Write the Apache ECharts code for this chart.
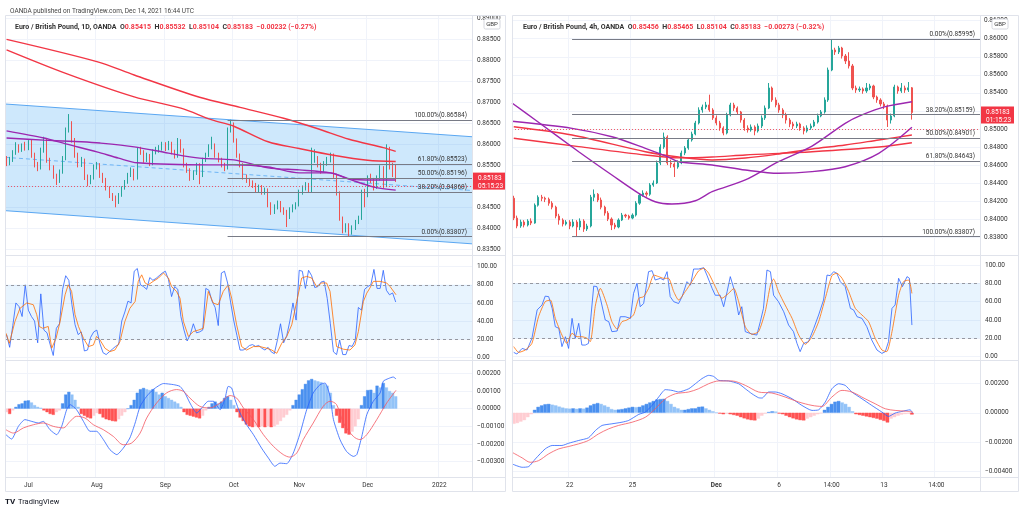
<!DOCTYPE html>
<html><head><meta charset="utf-8">
<script src="https://cdn.jsdelivr.net/npm/echarts/dist/echarts.min.js"></script>
<style>html,body{margin:0;padding:0;background:#fff}#c{width:1024px;height:512px}</style>
</head><body><div id="c"></div>
<script>
// ---------------- DATA: left (1D) ----------------
const leftTimeIdx = [7, 29, 51, 73, 94, 116, 139];
const leftTimeLab = ['Jul', 'Aug', 'Sep', 'Oct', 'Nov', 'Dec', '2022'];
const leftOpen0 = 0.8565;
const leftClose = [.8555,.8563,.8580,.8596,.8587,.8596,.8591,.8603,.8574,.8551,.8544,.8586,.8610,.8563,.8544,.8525,.8515,.8534,.8567,.8634,.8648,.8610,.8574,.8551,.8563,.8522,.8510,.8520,.8546,.8551,.8527,.8515,.8496,.8479,.8472,.8462,.8479,.8496,.8510,.8527,.8539,.8520,.8586,.8582,.8563,.8572,.8555,.8582,.8586,.8591,.8600,.8591,.8603,.8582,.8572,.8608,.8586,.8551,.8539,.8520,.8532,.8551,.8527,.8563,.8574,.8593,.8598,.8574,.8563,.8551,.8544,.8634,.8648,.8610,.8574,.8551,.8522,.8515,.8508,.8503,.8491,.8498,.8486,.8491,.8456,.8439,.8451,.8460,.8444,.8439,.8427,.8444,.8451,.8456,.8486,.8496,.8503,.8491,.8563,.8567,.8551,.8539,.8555,.8563,.8574,.8527,.8484,.8424,.8396,.8406,.8391,.8401,.8415,.8424,.8486,.8479,.8520,.8515,.8498,.8520,.8544,.8503,.8586,.8548,.85415,.85183];
const leftHigh = [.8572,.8570,.8586,.8605,.8600,.8602,.8606,.8610,.8612,.8580,.8558,.8592,.8618,.8614,.8568,.8550,.8530,.8540,.8572,.8640,.8672,.8655,.8615,.8580,.8570,.8566,.8528,.8527,.8552,.8558,.8555,.8532,.8520,.8500,.8484,.8478,.8484,.8500,.8515,.8532,.8545,.8542,.8592,.8594,.8586,.8580,.8577,.8588,.8594,.8598,.8606,.8605,.8608,.8606,.8587,.8615,.8612,.8590,.8556,.8543,.8538,.8556,.8555,.8568,.8580,.8600,.8618,.8602,.8580,.8568,.8556,.8640,.86584,.8652,.8614,.8578,.8555,.8528,.8520,.8514,.8508,.8504,.8503,.8497,.8495,.8462,.8457,.8466,.8465,.8450,.8444,.8450,.8457,.8462,.8492,.8502,.8510,.8508,.8592,.8588,.8572,.8556,.8560,.8570,.8580,.8578,.8530,.8488,.8428,.8412,.8412,.8407,.8420,.8430,.8492,.8494,.8526,.8530,.8520,.8526,.8550,.8548,.8600,.8594,.8556,.85532];
const leftLow = [.8548,.8550,.8558,.8575,.8580,.8582,.8585,.8586,.8568,.8545,.8536,.8540,.8580,.8556,.8538,.8518,.8503,.8508,.8530,.8562,.8628,.8604,.8568,.8545,.8546,.8515,.8500,.8505,.8516,.8540,.8520,.8508,.8490,.8472,.8465,.8450,.8458,.8475,.8492,.8506,.8522,.8514,.8516,.8575,.8556,.8558,.8548,.8550,.8576,.8580,.8585,.8584,.8586,.8576,.8566,.8568,.8580,.8545,.8532,.8513,.8515,.8527,.8505,.8522,.8558,.8570,.8588,.8568,.8557,.8545,.8536,.8540,.8628,.8604,.8568,.8545,.8516,.8508,.8500,.8496,.8484,.8486,.8480,.8480,.8450,.8432,.8434,.8445,.8438,.8432,.8403,.8422,.8438,.8445,.8452,.8480,.8490,.8484,.8486,.8556,.8545,.8530,.8534,.8549,.8557,.8520,.8478,.8418,.8388,.8390,.83807,.8385,.8396,.8410,.8420,.8450,.8474,.8508,.8490,.8494,.8514,.8496,.8498,.8540,.8522,.85104];
const leftMaRedA = [[0,.8850],[29,.8797],[41,.8765],[62,.8712],[75,.8688],[89,.8662],[100,.8637],[110,.8612],[121,.8592],[125,.8583]];
const leftMaRedB = [[0,.8825],[19,.8769],[41,.8713],[56,.8686],[66,.8658],[73,.8643],[84,.8606],[94,.8590],[105,.8574],[116,.8562],[125,.8559]];
const leftMaPurA = [[0,.8632],[12,.8615],[19,.8601],[29,.8582],[36,.8567],[42,.8556],[65,.8551],[73,.8551],[84,.8546],[94,.8532],[104,.8532],[110,.8518],[118,.8515],[125,.8515]];
const leftMaPurB = [[0,.8615],[12,.8610],[24,.8606],[30,.8603],[41,.8594],[52,.8579],[62,.8567],[73,.8563],[84,.8544],[94,.8539],[104,.8532],[110,.8517],[118,.8498],[125,.8491]];
const leftChanUpper = [0.8696, 0.8618];
const leftChanLower = [0.8442, 0.8363];
const leftChanMid = [0.8569, 0.8490];
const leftFibStart = 71;
const leftFib = [0.86584, 0.85523, 0.85196, 0.84868, 0.83807];
const leftFibLab = ['100.00%(0.86584)', '61.80%(0.85523)', '50.00%(0.85196)', '38.20%(0.84868)', '0.00%(0.83807)'];
const leftLast = 0.85183;
const leftPriceTicks = [0.835,0.84,0.845,0.85,0.855,0.86,0.865,0.87,0.875,0.88,0.885,0.89];
const leftK = [25,11,35,60,56,45,80,52,45,40,16,70,30,27,14,2,32,37,75,90,85,58,36,25,28,7,8,22,28,30,15,5,3,6,9,12,14,40,50,62,60,95,98,80,78,75,88,85,87,90,93,95,86,67,78,75,45,30,18,25,37,27,28,30,76,74,62,55,35,93,95,82,60,40,24,8,8,10,13,14,12,13,10,8,11,6,4,19,37,16,24,40,60,41,96,95,76,96,90,77,78,83,84,65,37,6,3,19,3,3,13,12,19,55,52,75,78,80,97,76,76,96,74,69,71,61];
const leftD = [[-0.2,26.6],[0.9,15.5],[2.7,39.5],[4.3,54],[6.5,60],[8.6,58],[9.7,47],[10.5,34],[11.6,32],[13.4,34],[14.5,10],[15.9,21],[17.2,39.5],[18.8,69],[19.8,80],[20.9,72.7],[22,47],[23.1,34],[24.7,21],[26.3,11.8],[27.9,13.6],[28.9,23],[30,19.2],[31.6,10],[33.2,6.3],[34.8,8],[36.4,17.3],[38,39.5],[39.6,54],[41.3,61.6],[42.3,83.8],[43.4,91],[44.5,82],[45.5,80],[47.1,83.8],[48.8,87.5],[50.4,93],[52,87.5],[53,78],[54.6,72.7],[55.7,65.3],[56.8,39.5],[58.4,23],[60,28.4],[61.6,30],[63.2,32],[64.8,72.7],[66.4,59.8],[68,58],[69.6,72.7],[71.2,80],[72.3,65.3],[73.9,35.8],[75.5,11.8],[77.1,8],[79.3,11.8],[81.4,11.8],[83.5,10],[85.2,8],[86.8,4.4],[88.4,15.5],[90,23],[91.6,35.8],[93.2,61.6],[94.8,87.5],[96.4,89.3],[98,87.5],[99.6,78],[101.2,82],[102.8,82],[103.9,72.7],[105,39.5],[106,11.8],[108.2,8.9],[110.3,8],[111.9,13.6],[113,28.4],[114.6,61.6],[115.7,70.8],[116.7,76.4],[117.8,83.8],[120,83.8],[122.1,82],[123.2,78],[125.1,69]];
const leftHist = [-0.0002,-0.0003,-0.0001,0.0001,0.00025,0.0003,0.00045,0.00047,0.00035,0.0002,0.0001,0.00005,-0.0001,-0.0002,-0.0003,-0.00035,-0.0002,-0.0001,0.0003,0.0008,0.00095,0.0008,0.0005,0.0001,-0.0003,-0.0004,-0.0005,-0.00055,-0.0004,-0.00025,-0.0003,-0.0005,-0.0006,-0.00065,-0.0007,-0.00072,-0.0006,-0.0004,-0.0002,0,0.0002,0.0005,0.0009,0.0011,0.00117,0.0011,0.00105,0.0011,0.00095,0.0008,0.0009,0.0007,0.0006,0.0005,0.0004,0.0003,0.0001,-0.0002,-0.00035,-0.0004,-0.00045,-0.0005,-0.00055,-0.0004,-0.0001,0.0001,0.0003,0.0004,0.0003,0.0004,0.0006,0.0007,0.0005,0.0002,-0.0002,-0.0005,-0.0007,-0.0009,-0.001,-0.00105,-0.001,-0.00105,-0.001,-0.00105,-0.001,-0.00105,-0.001,-0.0009,-0.0007,-0.0005,-0.00035,-0.0001,0.0002,0.0005,0.0008,0.0011,0.0014,0.0016,0.00168,0.0016,0.00155,0.0015,0.0014,0.0013,0.0009,0.0002,-0.0004,-0.0008,-0.0011,-0.0014,-0.00147,-0.0013,-0.001,-0.0006,0.0002,0.0007,0.00105,0.00107,0.0009,0.0013,0.0012,0.00145,0.0012,0.001,0.0009,0.0007];
const leftMacd = [[-0.2,-0.00147],[1.6,-0.00172],[3.8,-0.001],[5.9,-0.00062],[8.1,-0.00072],[10.2,-0.00081],[11.8,-0.00072],[13.95,-0.00119],[16.1,-0.00147],[17.7,-0.001],[19.3,-0.00006],[20.4,0.00023],[22.5,-0.00006],[24.7,-0.00072],[26.8,-0.00128],[28.9,-0.00128],[31.1,-0.00175],[33.2,-0.00232],[35.4,-0.0026],[37.5,-0.00223],[39.6,-0.00166],[41.3,-0.00081],[42.9,0.00013],[45,0.0007],[47.1,0.00108],[50.4,0.00142],[53.6,0.00136],[55.7,0.00126],[57.3,0.00089],[58.9,0.00032],[61.1,-0.00025],[62.7,0.00004],[64.8,0.00042],[66.4,0.00042],[68.6,-0.00006],[70.2,0.0006],[71.2,0.00126],[72.3,0.00117],[73.4,0.00051],[75,-0.00025],[77.1,-0.00091],[79.3,-0.00147],[81.9,-0.00223],[84.1,-0.00279],[86.2,-0.00326],[87.8,-0.00308],[90,-0.00311],[92.1,-0.00251],[94.3,-0.00138],[96.4,-0.00006],[98.5,0.00089],[100.7,0.00136],[102.3,0.00145],[103.9,0.0007],[105,-0.00062],[107.1,-0.00175],[109.2,-0.00242],[111.4,-0.0027],[112.5,-0.0026],[114.1,-0.00157],[115.7,-0.00034],[117.8,0.00042],[120,0.00089],[121,0.00155],[122.6,0.0017],[124.2,0.00179],[125.1,0.00168]];
const leftSignal = [[-0.2,-0.00119],[2.2,-0.00138],[5.4,-0.00109],[8.6,-0.00091],[11.8,-0.00081],[15,-0.001],[18.2,-0.00109],[20.4,-0.00072],[22.5,-0.00043],[25.2,-0.00053],[27.9,-0.00091],[31.1,-0.00119],[34.3,-0.00157],[37.5,-0.00204],[40.2,-0.00194],[42.9,-0.00138],[45,-0.00053],[48.2,0.00032],[51.4,0.00089],[54.6,0.00108],[56.8,0.00098],[58.9,0.0006],[62.1,0.00013],[65.3,0.00004],[68.6,0.00032],[71.8,0.00074],[73.9,0.0006],[76.1,0.00004],[79.3,-0.00062],[82.5,-0.00147],[85.7,-0.00213],[88.9,-0.0026],[91,-0.00274],[93.2,-0.00251],[95.3,-0.00175],[98.5,-0.00081],[101.7,0.00013],[103.9,0.00042],[106,0.00023],[108.2,-0.00081],[111.4,-0.00157],[113.5,-0.00175],[115.7,-0.00147],[118.9,-0.00062],[122.1,0.00032],[125.1,0.00104]];

// ---------------- DATA: right (4h) ----------------
const rightTimeIdx = [16, 34, 58, 76, 91, 106, 121];
const rightTimeLab = ['22', '25', 'Dec', '6', '14:00', '13', '14:00'];
const rightOpen0 = 0.84233;
const rightClose = [.84013,.83925,.83969,.83936,.83980,.83958,.84156,.84244,.84233,.84222,.84178,.84134,.84035,.83991,.83947,.83969,.83925,.83969,.83914,.83980,.83892,.83925,.84244,.84277,.84213,.84134,.84068,.84002,.83936,.83914,.83991,.84046,.84035,.84013,.84046,.84178,.84266,.84290,.84277,.84379,.84401,.84623,.84800,.84911,.84623,.84612,.84579,.84623,.84734,.84789,.84878,.84944,.85066,.85210,.85243,.85266,.85210,.85122,.85066,.85011,.84955,.85155,.85266,.85232,.85188,.85099,.85011,.84989,.85022,.84978,.85033,.85122,.85232,.85454,.85321,.85266,.85210,.85155,.85099,.85055,.85033,.85055,.85011,.84978,.85011,.85033,.85077,.85144,.85188,.85321,.85653,.85875,.85853,.85897,.85808,.85753,.85698,.85454,.85432,.85443,.85421,.85454,.85476,.85354,.85321,.85277,.85254,.85099,.85144,.85465,.85421,.85454,.85432,.85456,.85183];
const rightHigh = [.84260,.84040,.83995,.83990,.84000,.84010,.84175,.84265,.84270,.84250,.84240,.84200,.84150,.84060,.84010,.83990,.83990,.84000,.83990,.84010,.84000,.83950,.84270,.84330,.84290,.84240,.84150,.84090,.84020,.83960,.84010,.84070,.84060,.84050,.84065,.84200,.84290,.84320,.84310,.84400,.84430,.84650,.84830,.84960,.84930,.84660,.84630,.84650,.84760,.84810,.84900,.84970,.85090,.85240,.85270,.85300,.85380,.85230,.85150,.85090,.85030,.85180,.85290,.85290,.85250,.85200,.85120,.85040,.85050,.85040,.85060,.85150,.85260,.85509,.85470,.85350,.85290,.85230,.85180,.85120,.85080,.85080,.85070,.85030,.85040,.85060,.85100,.85170,.85210,.85350,.85680,.85995,.85900,.85920,.85910,.85830,.85850,.85720,.85480,.85470,.85460,.85509,.85500,.85490,.85370,.85340,.85300,.85270,.85170,.85490,.85480,.85509,.85480,.85520,.85465];
const rightLow = [.83990,.83900,.83905,.83910,.83920,.83935,.83950,.84140,.84200,.84190,.84150,.84110,.84010,.83940,.83920,.83930,.83890,.83910,.83807,.83880,.83860,.83870,.83910,.84200,.84190,.84110,.84040,.83980,.83880,.83890,.83900,.83980,.84015,.83995,.84000,.84030,.84160,.84250,.84250,.84260,.84360,.84390,.84600,.84780,.84600,.84570,.84468,.84560,.84610,.84710,.84770,.84860,.84930,.85050,.85180,.85220,.85190,.85100,.85040,.84980,.84930,.84940,.85140,.85200,.85160,.85070,.84980,.84960,.84970,.84930,.84960,.85010,.85100,.85220,.85300,.85240,.85180,.85120,.85060,.85020,.85000,.85010,.84980,.84940,.84960,.84990,.85020,.85060,.85130,.85170,.85300,.85640,.85820,.85830,.85780,.85720,.85670,.85430,.85400,.85410,.85390,.85400,.85430,.85330,.85290,.85250,.85220,.85022,.85060,.85130,.85390,.85400,.85400,.85410,.85104];
const rightMaRedA = [[0,.85025],[16.7,.84933],[37.7,.84748],[47.2,.84690],[56.8,.84656],[66.3,.84678],[75.8,.84723],[85.4,.84778],[94.9,.84822],[104.5,.84878],[114,.84933]];
const rightMaRedB = [[0,.84897],[18.6,.84804],[37.7,.84712],[47.2,.84680],[56.8,.84690],[66.3,.84712],[85.4,.84748],[104.5,.84800],[114,.84848]];
const rightMaPurA = [[-0.5,.85288],[6.2,.85099],[18.6,.84748],[28.1,.84490],[35.8,.84287],[40.5,.84194],[45.3,.84169],[52,.84205],[56.8,.84305],[66.3,.84435],[75.8,.84637],[85.4,.84811],[94.9,.85063],[99.7,.85155],[106.4,.85247],[114,.85302]];
const rightMaPurB = [[-0.5,.85085],[16.7,.85007],[28.1,.84914],[37.7,.84786],[44,.84693],[47.2,.84637],[56.8,.84601],[66.3,.84545],[75.8,.84509],[85.4,.84527],[94.9,.84582],[104.5,.84730],[114,.85018]];
const rightFibStart = 16.7;
const rightFib = [0.85995, 0.85159, 0.84901, 0.84643, 0.83807];
const rightFibLab = ['0.00%(0.85995)', '38.20%(0.85159)', '50.00%(0.84901)', '61.80%(0.84643)', '100.00%(0.83807)'];
const rightLast = 0.85183;
const rightPriceTicks = [0.836,0.838,0.84,0.842,0.844,0.846,0.848,0.85,0.852,0.854,0.856,0.858,0.86,0.862];
const rightK = [[0,4.7],[0.9,2.9],[2.4,9],[3.8,7.3],[5.2,20],[6.7,51],[8.1,56.4],[9,66],[10,65.5],[11,52.7],[11.9,32.7],[12.9,31],[13.8,11],[14.8,21.8],[15.7,9],[16.7,41.8],[17.6,20],[18.6,36.4],[19.5,12.7],[20.5,12.7],[21.4,14.5],[22.9,77],[23.8,76.4],[24.8,63.6],[26.2,40],[27.2,38.2],[28.1,27.3],[29.6,28],[30.5,43.6],[31.9,43.6],[33.4,41.8],[34.3,69],[35.3,80],[36.2,54.5],[37.2,58],[38.6,92.7],[39.6,93.8],[40.5,83.6],[42,85.5],[42.9,83.6],[43.9,92.7],[44.8,65.5],[45.8,60],[47.2,58],[48.2,65.5],[49.6,81.8],[50.6,78],[51.5,95.6],[52.9,95.6],[54.4,97],[55.3,89],[56.8,74.5],[57.7,67],[59.1,67],[60.1,54.5],[61.1,71],[62,87.3],[63,74.5],[64.4,45.5],[65.3,54.5],[66.3,27.3],[68.2,24.7],[69.6,23.6],[70.6,38.2],[71.5,52.7],[72.5,94.5],[73.5,92.7],[74.4,67],[75.8,60],[77.3,49],[78.7,34.5],[80.1,27.3],[81.1,14.5],[82,5.5],[83,14.5],[84.4,16.4],[85.9,31],[87.3,45.5],[88.7,61.8],[89.7,89],[90.6,88.4],[91.6,92.7],[92.5,91],[93.5,81.8],[94.9,76.4],[96.4,52.7],[97.3,51],[98.3,43.6],[99.7,41.8],[101.1,32.7],[102.5,18.2],[104,7.3],[105.4,3.6],[106.4,5.5],[107.3,16.4],[108.3,52.7],[109.2,56.4],[110.2,85.5],[111.3,76.4],[112.6,87.3],[113.3,85.5],[114,34.5]];
const rightD = [[0,11],[1.4,4.7],[3.3,7.3],[5.2,14.5],[7.1,43.6],[9,60],[10.5,61.8],[11.9,41.8],[13.8,23.6],[15.2,14.5],[16.7,25.5],[18.1,21.8],[19.5,21.8],[21,20],[21.9,16.4],[23.4,56.4],[24.8,74.5],[26.7,56.4],[28.1,38.2],[29.6,30],[31,38.2],[32.4,40],[34.3,45.5],[35.8,63.6],[37.2,65.5],[38.6,74.5],[40.1,89],[41.5,87.3],[42.9,85.5],[44.3,85.5],[45.8,71],[47.2,61.8],[49.1,71],[51,81.8],[52.9,93.5],[54.4,96.4],[55.8,91],[57.7,76.4],[59.6,63.6],[61.5,69],[63,74.5],[64.4,60],[66.3,32.7],[68.2,24.4],[70.1,27.3],[72,49],[73.5,78],[74.4,84.7],[75.8,71],[77.7,56.4],[79.7,41.8],[81.6,23.6],[83.5,13.5],[85.4,21.8],[87.3,38.2],[89.2,63.6],[91.1,88.4],[92.5,91],[94,85.5],[95.9,71],[97.8,52.7],[99.7,45.5],[101.6,38.2],[103.5,20],[105.4,7.3],[106.8,5.5],[108.3,27.3],[110.2,67],[111.6,81.8],[113.1,83.6],[114,69]];
const rightHist = [-0.00075,-0.0007,-0.0006,-0.0005,-0.0003,-0.0001,0.0002,0.0004,0.0005,0.00058,0.0006,0.00055,0.0005,0.00042,0.00035,0.0003,0.00028,0.0003,0.00027,0.0003,0.00028,0.00035,0.0005,0.0006,0.00066,0.0006,0.0005,0.0004,0.00025,0.0002,0.00022,0.00025,0.0003,0.00035,0.0004,0.00038,0.0004,0.0005,0.0006,0.0007,0.0008,0.0009,0.00093,0.00095,0.0008,0.0006,0.0004,0.0003,0.0002,0.0002,0.00025,0.0003,0.0003,0.0004,0.00042,0.0003,0.0002,0.0001,0.00002,-0.00005,-0.0001,-0.00005,-0.0001,-0.00015,-0.0002,-0.0003,-0.00038,-0.00045,-0.0005,-0.00052,-0.0004,-0.0002,-0.00005,0.00005,0.0001,0.00008,-0.00005,-0.0001,-0.0002,-0.0003,-0.00038,-0.00045,-0.0005,-0.00052,-0.0004,-0.0003,-0.0002,-0.0001,-0.00003,0.0002,0.0004,0.0006,0.00075,0.0008,0.0007,0.0006,0.0004,0.0001,-0.0001,-0.00015,-0.0002,-0.00025,-0.0003,-0.00035,-0.0004,-0.00048,-0.00055,-0.00066,-0.0004,-0.0003,-0.0002,-0.00012,-0.00008,-0.00005,-0.00012];
const rightMacd = [[-0.5,-0.00347],[2.4,-0.0037],[4.3,-0.00365],[6.2,-0.00313],[9,-0.00245],[11,-0.00222],[13.8,-0.00222],[15.7,-0.00207],[18.6,-0.00188],[21.4,-0.0017],[23.4,-0.0012],[25.3,-0.00086],[28.1,-0.00075],[31,-0.00064],[32.9,-0.00052],[35.8,-0.00011],[37.7,0.00005],[39.6,0.0005],[41.5,0.00107],[43.4,0.00157],[45.3,0.00152],[47.2,0.00141],[50.1,0.00163],[52,0.00197],[53.9,0.00232],[55.8,0.00254],[57.2,0.00247],[58.7,0.0022],[61.5,0.00216],[64.4,0.00197],[66.3,0.00163],[68.2,0.00129],[70.1,0.00102],[71.1,0.001],[73,0.00141],[74.9,0.00141],[76.8,0.00129],[79.7,0.00095],[82.5,0.0005],[85.4,0.00016],[87.3,0.0002],[89.2,0.00073],[91.1,0.00163],[93,0.00197],[94.9,0.00186],[96.8,0.00141],[99.7,0.00095],[102.5,0.0005],[105.4,0.00005],[107.3,-0.00025],[109.2,-0.00002],[111.1,0.00009],[113.5,0.0002],[114.2,-0.00002]];
const rightSignal = [[-0.5,-0.00268],[2.4,-0.00306],[4.7,-0.00336],[7.1,-0.00325],[10,-0.00279],[12.9,-0.00245],[15.7,-0.00229],[18.6,-0.00211],[21.4,-0.00188],[24.3,-0.00143],[27.2,-0.00109],[30,-0.00086],[33.9,-0.00064],[37.7,-0.0003],[40.5,0.00027],[43.4,0.00095],[46.3,0.00129],[50.1,0.00141],[52.9,0.00163],[55.8,0.00197],[58.7,0.00216],[62.5,0.00216],[66.3,0.00186],[70.1,0.00141],[73.9,0.00134],[77.7,0.00107],[81.6,0.00073],[85.4,0.0005],[88.2,0.00043],[91.1,0.00107],[94,0.00152],[96.8,0.00141],[100.6,0.00095],[103.5,0.00061],[106.4,0.00027],[109.2,0.00016],[112.1,0.00011],[114.2,0.00005]];

const stochTicks = [0, 20, 40, 60, 80, 100];
const leftMacdTicks = [-0.003, -0.002, -0.001, 0, 0.001, 0.002];
const rightMacdTicks = [-0.004, -0.002, 0, 0.002];

// ---------------- STYLE / LAYOUT ----------------
const FONT = 'Roboto, "Noto Sans", "DejaVu Sans", sans-serif';
const N_L = 150, N_R = 134;
const GRID_C = '#f0f3fa';
const UP = '#26a69a', DN = '#ef5350';
const RED = '#f23645', PUR = '#9c27b0';
const TXT = '#333';
const FS = 6.5;

function cats(n) { return Array.from({length: n}, (_, i) => String(i)); }
function candles(o0, close, high, low) {
  return close.map((c, i) => [i === 0 ? o0 : close[i - 1], c, low[i], high[i]]);
}
function hist(vals) {
  return vals.map((v, i) => {
    const p = i > 0 ? vals[i - 1] : v;
    let col;
    if (v >= 0) col = v >= p ? '#4a90ef' : '#93c3f8';
    else col = v < p ? '#ff5252' : '#ffcdd2';
    return {value: v, itemStyle: {color: col, borderColor: col, borderWidth: 0.4}};
  });
}
const fmtPrice = v => v.toFixed(5);
const fmtMacd = v => (v < 0 ? '\u2212' : '') + Math.abs(v).toFixed(5);
const fmtStoch = v => v.toFixed(2);

function catAxis(g, n, idx, labs, showLabel) {
  const set = new Set(idx);
  return {
    type: 'category', gridIndex: g, data: cats(n), boundaryGap: true,
    axisLine: {show: false}, axisTick: {show: false},
    axisLabel: {
      show: showLabel, interval: (i) => set.has(i), margin: 5,
      color: TXT, fontSize: FS, fontFamily: FONT,
      formatter: (v) => { const t = labs[idx.indexOf(Number(v))]; return t === 'Dec' && n === N_R ? '{b|Dec}' : t; },
      rich: {b: {fontWeight: 'bold', fontSize: FS, color: TXT, fontFamily: FONT}}
    },
    splitLine: {show: true, interval: (i) => set.has(i), lineStyle: {color: GRID_C, width: 1}}
  };
}
function valAxis(g, n) { return {type: 'value', gridIndex: g, min: -0.5, max: n - 0.5, show: false, position: 'top'}; }
function yAx(g, min, max, ticks, fmt, margin) {
  return {
    type: 'value', gridIndex: g, position: 'right', min, max,
    axisLine: {show: false},
    axisTick: {show: false, customValues: ticks},
    axisLabel: {customValues: ticks, formatter: fmt, color: TXT, fontSize: FS, fontFamily: FONT, margin},
    splitLine: {show: true, lineStyle: {color: GRID_C, width: 1}}
  };
}
function line(xi, yi, data, color, width, extra) {
  return Object.assign({type: 'line', xAxisIndex: xi, yAxisIndex: yi, data, symbol: 'none', silent: true,
    lineStyle: {color, width}, z: 4}, extra || {});
}
function channelFill(xi, yi, n, up, lo) {
  return {
    type: 'custom', xAxisIndex: xi, yAxisIndex: yi, silent: true, z: 1,
    data: [[-0.5, up[0]]],
    renderItem: (params, api) => ({
      type: 'polygon',
      shape: {points: [api.coord([-0.5, up[0]]), api.coord([n - 0.5, up[1]]), api.coord([n - 0.5, lo[1]]), api.coord([-0.5, lo[0]])]},
      style: {fill: 'rgba(33,150,243,0.22)'}
    })
  };
}
function fibMark(start, end, levels, labs, last) {
  const d = levels.map((v, k) => [{coord: [start, v], name: labs[k]}, {coord: [end, v]}]);
  d.push({yAxis: last, lineStyle: {color: RED, type: [1, 2], width: 1, opacity: 0.8}, label: {show: false}});
  return {
    symbol: 'none', silent: true, animation: false,
    lineStyle: {color: '#787b86', width: 1, type: 'solid'},
    label: {show: true, position: 'insideEndTop', formatter: '{b}', color: TXT, fontSize: FS, fontFamily: FONT, distance: [5, 1]},
    data: d
  };
}
function stochMarks() {
  return {
    markArea: {silent: true, itemStyle: {color: 'rgba(33,150,243,0.1)'}, data: [[{yAxis: 20}, {yAxis: 80}]]},
    markLine: {symbol: 'none', silent: true, animation: false, label: {show: false},
      lineStyle: {color: '#9598a1', type: [3, 3], width: 1}, data: [{yAxis: 80}, {yAxis: 20}]}
  };
}

const legendRich = {
  a: {color: TXT, fontSize: FS + 0.5, fontFamily: FONT},
  r: {color: RED, fontSize: FS + 0.5, fontFamily: FONT}
};

const option = {
  animation: false,
  backgroundColor: '#ffffff',
  textStyle: {fontFamily: FONT},
  title: [
    {text: 'OANDA published on TradingView.com, Dec 14, 2021 16:44 UTC', left: 5, top: 3,
      textStyle: {fontSize: FS, fontWeight: 'normal', color: '#444', fontFamily: FONT}},
    {text: '{a|Euro / British Pound, 1D, OANDA  O}{r|0.85415}{a|  H}{r|0.85532}{a|  L}{r|0.85104}{a|  C}{r|0.85183}{r|  \u22120.00232 (\u22120.27%)}',
      left: 10, top: 19, textStyle: {rich: legendRich}},
    {text: '{a|Euro / British Pound, 4h, OANDA  O}{r|0.85456}{a|  H}{r|0.85465}{a|  L}{r|0.85104}{a|  C}{r|0.85183}{r|  \u22120.00273 (\u22120.32%)}',
      left: 518, top: 19, textStyle: {rich: legendRich}}
  ],
  grid: [
    {left: 5, top: 15, width: 467, height: 240},
    {left: 5, top: 256, width: 467, height: 104},
    {left: 5, top: 361, width: 467, height: 116},
    {left: 512, top: 15, width: 468, height: 240},
    {left: 512, top: 256, width: 468, height: 104},
    {left: 512, top: 361, width: 468, height: 116}
  ],
  xAxis: [
    catAxis(0, N_L, leftTimeIdx, leftTimeLab, false), valAxis(0, N_L),
    catAxis(1, N_L, leftTimeIdx, leftTimeLab, false), valAxis(1, N_L),
    catAxis(2, N_L, leftTimeIdx, leftTimeLab, true), valAxis(2, N_L),
    catAxis(3, N_R, rightTimeIdx, rightTimeLab, false), valAxis(3, N_R),
    catAxis(4, N_R, rightTimeIdx, rightTimeLab, false), valAxis(4, N_R),
    catAxis(5, N_R, rightTimeIdx, rightTimeLab, true), valAxis(5, N_R)
  ],
  yAxis: [
    yAx(0, 0.83364, 0.89079, leftPriceTicks, fmtPrice, 5),
    yAx(1, -3.0, 111.8, stochTicks, fmtStoch, 5),
    yAx(2, -0.003865, 0.002696, leftMacdTicks, fmtMacd, 5),
    yAx(3, 0.836039, 0.862625, rightPriceTicks, fmtPrice, 4),
    yAx(4, -3.6, 109.8, stochTicks, fmtStoch, 5),
    yAx(5, -0.00436, 0.003514, rightMacdTicks, fmtMacd, 5)
  ],
  series: [
    // ----- left price -----
    channelFill(1, 0, N_L, leftChanUpper, leftChanLower),
    line(1, 0, [[-0.5, leftChanUpper[0]], [N_L - 0.5, leftChanUpper[1]]], '#5aa7f2', 1, {z: 2}),
    line(1, 0, [[-0.5, leftChanLower[0]], [N_L - 0.5, leftChanLower[1]]], '#5aa7f2', 1, {z: 2}),
    line(1, 0, [[-0.5, leftChanMid[0]], [N_L - 0.5, leftChanMid[1]]], '#6fb6f6', 1, {z: 2, lineStyle: {color: '#6fb6f6', width: 1, type: [4, 3]}}),
    {type: 'candlestick', xAxisIndex: 0, yAxisIndex: 0, data: candles(leftOpen0, leftClose, leftHigh, leftLow), barWidth: 1.3, silent: true, z: 3,
      itemStyle: {color: UP, color0: DN, borderColor: UP, borderColor0: DN, borderWidth: 1}},
    line(1, 0, leftMaRedA, RED, 1.4, {smooth: 0.3}),
    line(1, 0, leftMaRedB, RED, 1.4, {smooth: 0.3, markLine: fibMark(leftFibStart, N_L - 0.5, leftFib, leftFibLab, leftLast)}),
    line(1, 0, leftMaPurA, PUR, 1.4, {smooth: 0.3}),
    line(1, 0, leftMaPurB, PUR, 1.4, {smooth: 0.3}),
    // ----- left stoch -----
    Object.assign({type: 'line', xAxisIndex: 2, yAxisIndex: 1, data: leftK, symbol: 'none', silent: true, lineStyle: {color: '#2962ff', width: 0.8}, z: 4}, stochMarks()),
    line(3, 1, leftD, '#ff6d00', 0.8),
    // ----- left macd -----
    {type: 'bar', xAxisIndex: 4, yAxisIndex: 2, data: hist(leftHist), barCategoryGap: '0%', silent: true, z: 2},
    line(5, 2, leftMacd, '#2962ff', 0.8, {smooth: 0.2}),
    line(5, 2, leftSignal, '#f4555f', 0.8, {smooth: 0.3}),
    // ----- right price -----
    {type: 'candlestick', xAxisIndex: 6, yAxisIndex: 3, data: candles(rightOpen0, rightClose, rightHigh, rightLow), barWidth: 1.6, silent: true, z: 3,
      itemStyle: {color: UP, color0: DN, borderColor: UP, borderColor0: DN, borderWidth: 1}},
    line(7, 3, rightMaRedA, RED, 1.4, {smooth: 0.3}),
    line(7, 3, rightMaRedB, RED, 1.4, {smooth: 0.3, markLine: fibMark(rightFibStart, N_R - 0.5, rightFib, rightFibLab, rightLast)}),
    line(7, 3, rightMaPurA, PUR, 1.4, {smooth: 0.3}),
    line(7, 3, rightMaPurB, PUR, 1.4, {smooth: 0.3}),
    // ----- right stoch -----
    Object.assign(line(9, 4, rightK, '#2962ff', 0.8), stochMarks()),
    line(9, 4, rightD, '#ff6d00', 0.8, {smooth: 0.2}),
    // ----- right macd -----
    {type: 'bar', xAxisIndex: 10, yAxisIndex: 5, data: hist(rightHist), barCategoryGap: '0%', silent: true, z: 2},
    line(11, 5, rightMacd, '#2962ff', 0.8, {smooth: 0.2}),
    line(11, 5, rightSignal, '#f4555f', 0.8, {smooth: 0.3})
  ]
};

const chart = echarts.init(document.getElementById('c'), null, {renderer: 'canvas'});
chart.setOption(option);

// ----- frame, price boxes, footer -----
const BORDER = '#e0e3eb';
function hline(x1, x2, y) { return {type: 'line', shape: {x1, y1: y, x2, y2: y}, style: {stroke: BORDER, lineWidth: 1}, silent: true, z: 50}; }
function vline(x, y1, y2) { return {type: 'line', shape: {x1: x, y1, x2: x, y2}, style: {stroke: BORDER, lineWidth: 1}, silent: true, z: 50}; }
function frame(x0, x1, xs) {
  return [
    {type: 'rect', shape: {x: x0 + 0.5, y: 15.5, width: x1 - x0, height: 476}, style: {fill: 'none', stroke: BORDER, lineWidth: 1}, silent: true, z: 50},
    hline(x0, x1, 255.5), hline(x0, x1, 360.5), hline(x0, x1, 477.5), vline(xs + 0.5, 15, 492)
  ];
}
function gbp(x) {
  return [
    {type: 'rect', shape: {x: x, y: 19, width: 16, height: 10, r: 1.5}, style: {fill: '#fff', stroke: '#c9ccd4', lineWidth: 0.8}, z: 60, silent: true},
    {type: 'text', x: x + 8, y: 24.3, style: {text: 'GBP', fontSize: 6, fontFamily: FONT, fill: '#333', align: 'center', verticalAlign: 'middle'}, z: 61, silent: true}
  ];
}
function priceBox(x, w, py, t1, t2) {
  return [
    {type: 'rect', shape: {x: x, y: py - 6, width: w, height: 17}, style: {fill: RED}, z: 60, silent: true},
    {type: 'text', x: x + 5, y: py, style: {text: t1, fontSize: FS, fontFamily: FONT, fill: '#fff', verticalAlign: 'middle'}, z: 61, silent: true},
    {type: 'text', x: x + 5, y: py + 7.5, style: {text: t2, fontSize: FS, fontFamily: FONT, fill: '#fff', verticalAlign: 'middle'}, z: 61, silent: true}
  ];
}
const pyL = chart.convertToPixel({yAxisIndex: 0}, leftLast);
const pyR = chart.convertToPixel({yAxisIndex: 3}, rightLast);
chart.setOption({
  graphic: [].concat(
    frame(5, 505, 472), frame(512, 1018, 980),
    gbp(484), gbp(992),
    priceBox(473, 32, pyL, '0.85183', '05:15:23'),
    priceBox(981, 33, pyR, '0.85183', '01:15:23'),
    [
      {type: 'text', x: 5, y: 502, style: {text: 'TV', fontSize: 8, fontWeight: 'bold', fontFamily: FONT, fill: '#131722', verticalAlign: 'middle'}, silent: true},
      {type: 'text', x: 18, y: 502, style: {text: 'TradingView', fontSize: 7.5, fontFamily: FONT, fill: '#131722', verticalAlign: 'middle'}, silent: true}
    ]
  )
});
</script></body></html>
